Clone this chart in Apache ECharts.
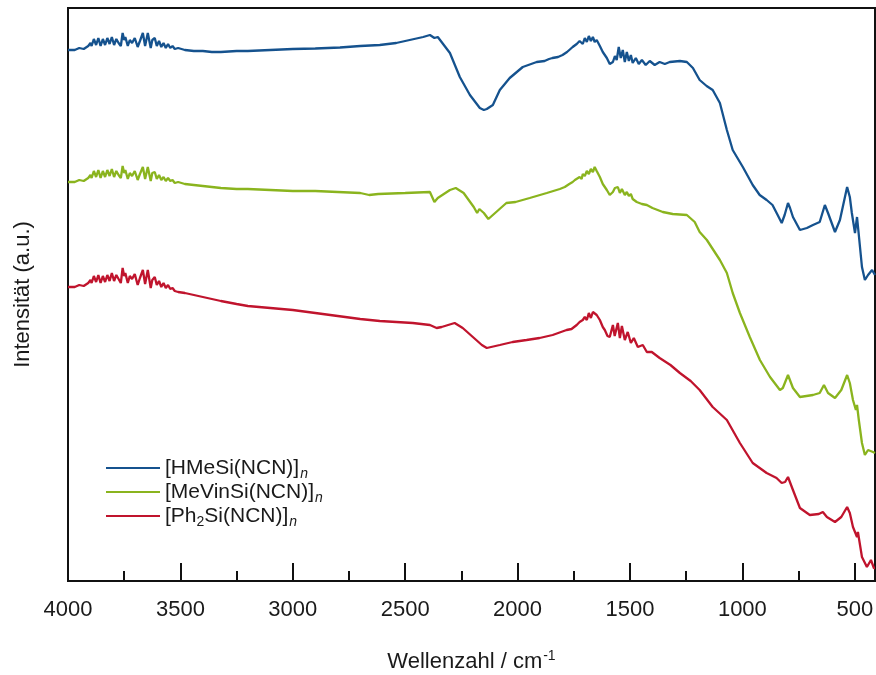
<!DOCTYPE html>
<html>
<head>
<meta charset="utf-8">
<script src="https://cdn.jsdelivr.net/npm/echarts@6/dist/echarts.min.js"></script>
<style>
html, body { margin: 0; padding: 0; background: #fff; }
#chart { width: 876px; height: 675px; }
</style>
</head>
<body>
<div id="chart"></div>
<script>
// IR spectra of three polysilylcarbodiimides, wavenumber in cm-1, intensity in a.u.
const seriesNames = ['[HMeSi(NCN)]n', '[MeVinSi(NCN)]n', '[Ph2Si(NCN)]n'];
const legendLabels = ['[HMeSi(NCN)]{sub|n}', '[MeVinSi(NCN)]{sub|n}', '[Ph{num|2}Si(NCN)]{sub|n}'];
const majorTicks = [4000, 3500, 3000, 2500, 2000, 1500, 1000, 500];
const minorTicks = [3750, 3250, 2750, 2250, 1750, 1250, 750];

const hmesi = [
  [4000,531],[3970,531],[3950,533],[3930,532],[3910,535],[3900,538],[3895,535],[3885,542],[3875,536],[3865,543],
  [3855,535],[3845,542],[3835,536],[3825,543],[3815,537],[3805,544],[3795,536],[3785,542],[3775,538],[3765,535],
  [3757,548],[3750,541],[3745,544],[3734,535],[3725,541],[3715,538],[3703,543],[3690,534],[3680,540],[3667,548],
  [3657,535],[3645,548],[3632,533],[3625,541],[3614,543],[3605,535],[3595,540],[3585,534],[3575,538],[3565,533],
  [3555,537],[3545,533],[3535,535],[3525,532],[3510,533],[3480,531],[3440,530],[3400,530],[3360,529],
  [3320,529],[3250,530],[3200,530],[3100,531],[3000,532],[2900,532.5],[2790,533.5],[2700,535],[2613,536],[2540,538],
  [2480,541],[2420,544],[2390,546],[2370,543],[2355,544],[2301,528],[2257,504],[2212,486],[2168,473],[2150,471],
  [2137,472],[2110,476],[2079,491],[2035,503],[1977,514],[1915,519],[1880,520],[1860,522],[1845,523],[1820,524],
  [1800,526],[1780,529],[1755,534],[1737,537],[1724,540],[1710,537],[1701,543],[1692,539],[1683,545],[1674,540],
  [1665,544],[1657,539],[1648,541],[1634,535],[1621,529],[1603,523],[1590,517],[1576,519],[1567,525],[1559,521],
  [1550,534],[1541,523],[1532,531],[1523,519],[1514,529],[1505,520],[1496,526],[1488,518],[1474,523],[1461,517],
  [1447,521],[1430,516],[1412,520],[1390,516],[1368,519],[1345,517],[1323,519],[1278,520],[1247,519],[1220,513],
  [1190,501],[1159,495],[1132,491],[1100,478],[1069,451],[1043,431],[998,414],[954,396],[923,386],[892,381],
  [866,376],[843,366],[825,358],[812,366],[797,378],[788,373],[775,364],[744,351],[713,353],[686,356],
  [656,359],[633,376],[619,368],[588,349],[566,361],[534,394],[522,384],[513,368],[499,348],[490,364],
  [482,346],[468,314],[455,301],[441,306],[423,311],[410,306]
];

const mevinsi = [
  [4000,399],[3970,399],[3950,401],[3930,400],[3910,403],[3900,406],[3895,403],[3885,410],[3875,404],[3865,411],
  [3855,403],[3845,410],[3835,404],[3825,411],[3815,405],[3805,412],[3795,404],[3785,410],[3775,406],[3765,403],
  [3757,415],[3750,408],[3745,411],[3734,402],[3725,408],[3715,405],[3703,410],[3690,401],[3680,407],[3667,414],
  [3657,402],[3645,414],[3632,400],[3625,408],[3614,409],[3605,402],[3595,406],[3585,401],[3575,404],[3565,400],
  [3555,403],[3545,400],[3535,401],[3525,398],[3510,399],[3480,397],[3440,396],[3400,395],[3360,394],
  [3320,393],[3250,392],[3200,392],[3100,391],[3000,390],[2900,390],[2800,389],[2700,388],[2660,386],[2620,387],
  [2500,388],[2390,389],[2370,379],[2355,383],[2301,391],[2275,393],[2240,388],[2195,374],[2180,368],[2170,372],
  [2150,368],[2130,362],[2095,369],[2050,378],[2009,379],[1946,383],[1870,388],[1812,392],[1790,394],[1770,397],
  [1755,399],[1745,401],[1737,399],[1724,404],[1715,402],[1710,407],[1701,405],[1692,410],[1683,407],[1674,412],
  [1665,409],[1657,414],[1648,410],[1640,411],[1634,404],[1621,397],[1603,391],[1590,386],[1576,389],[1567,393],
  [1554,394],[1545,388],[1536,392],[1523,386],[1514,389],[1505,385],[1496,387],[1488,382],[1470,379],[1447,377],
  [1425,376],[1400,373],[1354,369],[1310,367],[1247,366],[1212,359],[1190,349],[1158,341],[1100,321],[1069,308],
  [1043,288],[1011,268],[967,244],[922,221],[877,204],[833,191],[820,193],[797,206],[775,193],[744,184],
  [686,186],[656,188],[637,196],[619,188],[588,183],[560,191],[534,206],[522,198],[508,181],[495,171],
  [490,176],[482,161],[468,138],[455,126],[441,131],[419,129],[410,128]
];

const ph2si = [
  [4000,294],[3970,294],[3950,296],[3930,295],[3910,298],[3900,301],[3895,298],[3885,305],[3875,299],[3865,306],
  [3855,298],[3845,305],[3835,299],[3825,306],[3815,300],[3805,308],[3795,300],[3785,306],[3775,302],[3765,298],
  [3757,313],[3750,305],[3745,308],[3734,298],[3725,305],[3715,302],[3703,307],[3690,296],[3680,303],[3667,311],
  [3657,297],[3645,311],[3632,293],[3625,301],[3614,304],[3605,296],[3595,300],[3585,294],[3575,298],[3565,293],
  [3555,296],[3545,292],[3535,293],[3525,290],[3510,289],[3480,288],[3440,286],[3400,284],[3360,282],
  [3320,280],[3250,277],[3200,275],[3100,273],[3000,271],[2900,268],[2800,265],[2700,262],[2613,260],[2466,258],
  [2390,256],[2360,253],[2338,254],[2280,258],[2244,253],[2199,244],[2159,236],[2137,233],[2079,236],[2022,239],
  [1960,241],[1902,243],[1844,246],[1782,251],[1760,252],[1737,256],[1724,259],[1710,261],[1701,264],[1692,261],
  [1683,268],[1674,263],[1665,269],[1657,271],[1648,266],[1634,261],[1621,254],[1612,251],[1600,245],[1590,244],
  [1576,256],[1568,245],[1554,258],[1545,243],[1536,255],[1523,241],[1510,249],[1496,238],[1483,243],[1465,234],
  [1443,236],[1425,229],[1403,229],[1368,223],[1320,216],[1278,208],[1230,200],[1190,191],[1132,174],[1069,161],
  [1011,138],[954,118],[892,108],[848,103],[825,98],[810,99],[797,104],[775,91],[744,73],[700,66],
  [660,67],[642,69],[624,64],[588,59],[560,64],[534,74],[522,68],[508,54],[490,44],[486,49],
  [468,24],[446,14],[428,21],[415,13],[410,13]
];

const seriesData = [hmesi, mevinsi, ph2si];
const seriesColors = ['#15528e', '#8ab41e', '#c0142d'];

const fontFamily = '"Liberation Sans", Arial, sans-serif';
const textColor = '#1a1a1a';

const chart = echarts.init(document.getElementById('chart'), null, { renderer: 'canvas' });

const option = {
  animation: false,
  backgroundColor: '#fff',
  grid: {
    left: 68, right: 1, top: 8, bottom: 94,
    outerBoundsMode: 'none', containLabel: false,
    show: true, borderColor: '#111', borderWidth: 2
  },
  xAxis: [
    {
      type: 'value', inverse: true, min: 410, max: 4000, position: 'bottom',
      axisLine: { show: true, onZero: false, lineStyle: { color: '#111', width: 2 } },
      axisTick: { show: true, inside: true, length: 18, customValues: majorTicks, lineStyle: { color: '#111', width: 2 } },
      axisLabel: {
        customValues: majorTicks, fontSize: 22, color: textColor, fontFamily: fontFamily, margin: 18,
        formatter: function (v) { return String(v); }
      },
      splitLine: { show: false },
      name: 'Wellenzahl / cm{sup|-1}', nameLocation: 'middle', nameGap: 68,
      nameTextStyle: {
        fontSize: 22, color: textColor, fontFamily: fontFamily,
        rich: { sup: { fontSize: 14, color: textColor, fontFamily: fontFamily, padding: [0, 0, 12, 1] } }
      }
    },
    {
      type: 'value', inverse: true, min: 410, max: 4000, position: 'bottom',
      axisLine: { show: false },
      axisTick: { show: true, inside: true, length: 10, customValues: minorTicks, lineStyle: { color: '#111', width: 2 } },
      axisLabel: { show: false },
      splitLine: { show: false }
    }
  ],
  yAxis: {
    type: 'value', min: 0, max: 573,
    axisLine: { show: true, lineStyle: { color: '#111', width: 2 } },
    axisTick: { show: false },
    axisLabel: { show: false },
    splitLine: { show: false },
    name: 'Intensität (a.u.)', nameLocation: 'middle', nameGap: 34,
    nameTextStyle: { fontSize: 22, color: textColor, fontFamily: fontFamily }
  },
  legend: {
    orient: 'vertical', left: 101, top: 450,
    itemWidth: 54, itemHeight: 2, itemGap: -2, icon: 'rect',
    data: seriesNames,
    formatter: function (name) { return legendLabels[seriesNames.indexOf(name)]; },
    textStyle: {
      fontSize: 21, color: textColor, fontFamily: fontFamily, lineHeight: 22,
      rich: {
        sub: { fontSize: 14, fontStyle: 'italic', color: textColor, fontFamily: fontFamily, lineHeight: 22, padding: [12, 0, 0, 1] },
        num: { fontSize: 14, color: textColor, fontFamily: fontFamily, lineHeight: 22, padding: [12, 0, 0, 0] }
      }
    }
  },
  series: seriesNames.map(function (name, i) {
    return {
      name: name, type: 'line', xAxisIndex: 0,
      data: seriesData[i],
      showSymbol: false, symbol: 'none',
      color: seriesColors[i],
      lineStyle: { width: 2.3, color: seriesColors[i] }
    };
  })
};

chart.setOption(option);
</script>
</body>
</html>
